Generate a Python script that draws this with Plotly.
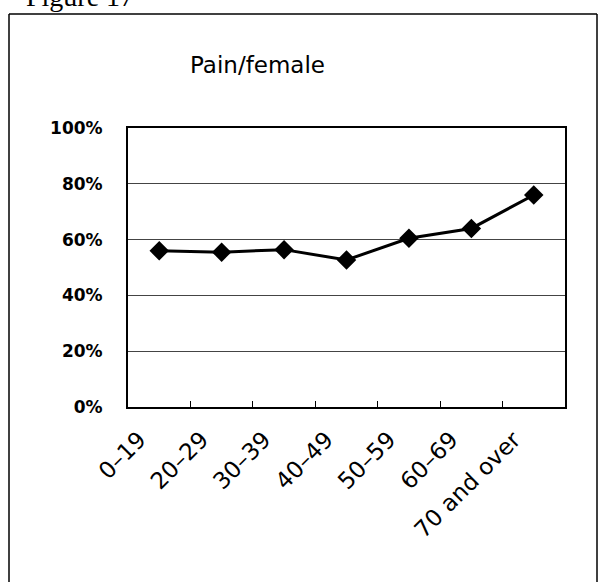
import plotly.graph_objects as go

categories = ["0\u201319", "20\u201329", "30\u201339", "40\u201349", "50\u201359", "60\u201369", "70 and over"]
values = [0.56, 0.555, 0.564, 0.527, 0.605, 0.64, 0.76]
y_ticks = [0, 0.2, 0.4, 0.6, 0.8, 1.0]
y_tick_labels = ["0%", "20%", "40%", "60%", "80%", "100%"]
title_text = "Pain/female"
figure_label = "Figure 17"

W, H = 600, 582
L, R, T, B = 128, 35, 128, 175
pw, ph = W - L - R, H - T - B

def px(x):
    return (x - L) / pw

def py(y):
    return (H - B - y) / ph

fig = go.Figure()
fig.add_trace(go.Scatter(
    x=categories, y=values, mode="lines+markers",
    line=dict(color="black", width=3),
    marker=dict(symbol="diamond", size=15, color="black"),
    showlegend=False,
))

fig.update_layout(
    width=W, height=H,
    margin=dict(l=L, r=R, t=T, b=B),
    paper_bgcolor="white", plot_bgcolor="white",
    xaxis=dict(
        type="category", tickangle=-45,
        tickfont=dict(family="DejaVu Sans", size=23, color="black"),
        showline=True, linecolor="black", linewidth=2, mirror=True,
        ticks="inside", tickson="boundaries", ticklen=6, tickcolor="black", tickwidth=1,
        showgrid=False, zeroline=False,
        ticklabelstandoff=8, ticklabelshift=-20,
    ),
    yaxis=dict(
        range=[0, 1.0], tickvals=y_ticks, ticktext=y_tick_labels,
        tickfont=dict(family="DejaVu Sans", size=17, color="black", weight="bold"),
        showline=True, linecolor="black", linewidth=2, mirror=True,
        showgrid=True, gridcolor="#444", gridwidth=1, zeroline=False,
        ticks="outside", ticklen=20, tickcolor="rgba(0,0,0,0)",
    ),
    annotations=[
        dict(text=title_text, xref="paper", yref="paper", x=px(257), y=py(65),
             xanchor="center", yanchor="middle", showarrow=False,
             font=dict(family="DejaVu Sans", size=23, color="black")),
        dict(text=figure_label, xref="paper", yref="paper", x=px(24), y=py(-3),
             xanchor="left", yanchor="middle", showarrow=False,
             font=dict(family="Liberation Serif", size=28, color="black")),
    ],
    shapes=[
        dict(type="line", xref="paper", yref="paper", x0=px(9), x1=px(597), y0=py(14), y1=py(14),
             line=dict(color="black", width=1.5)),
        dict(type="line", xref="paper", yref="paper", x0=px(9), x1=px(9), y0=py(14), y1=py(600),
             line=dict(color="black", width=1.5)),
        dict(type="line", xref="paper", yref="paper", x0=px(597), x1=px(597), y0=py(14), y1=py(600),
             line=dict(color="black", width=1.5)),
    ],
)

fig.write_html("out.html", config={"displayModeBar": False},
               post_script="document.body.style.margin='0';")
